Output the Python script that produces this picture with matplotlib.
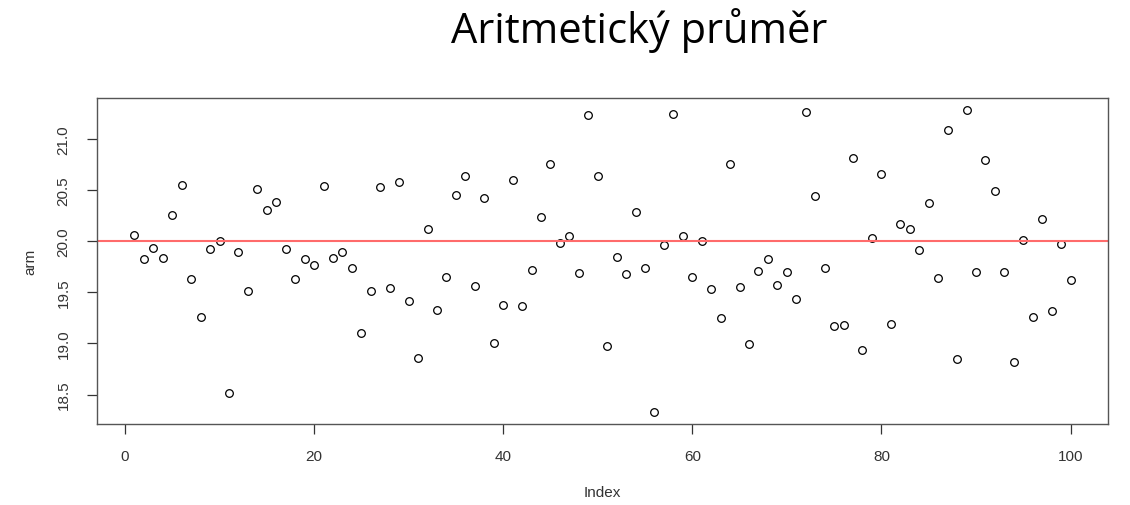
import numpy as np
import matplotlib.pyplot as plt

# sample means, one per simulated sample (index 1..100)
arm = [
    20.06, 19.82, 19.93, 19.83, 20.25, 20.55, 19.63, 19.26, 19.92, 20.00,
    18.52, 19.89, 19.51, 20.51, 20.30, 20.38, 19.92, 19.63, 19.82, 19.77,
    20.54, 19.83, 19.89, 19.74, 19.10, 19.51, 20.53, 19.54, 20.58, 19.41,
    18.86, 20.12, 19.33, 19.65, 20.45, 20.64, 19.56, 20.42, 19.00, 19.38,
    20.60, 19.37, 19.72, 20.24, 20.75, 19.98, 20.05, 19.69, 21.23, 20.64,
    18.97, 19.84, 19.68, 20.28, 19.74, 18.33, 19.96, 21.24, 20.05, 19.65,
    20.00, 19.53, 19.25, 20.75, 19.55, 18.99, 19.71, 19.82, 19.57, 19.70,
    19.43, 21.26, 20.44, 19.74, 19.17, 19.18, 20.81, 18.94, 20.03, 20.66,
    19.19, 20.17, 20.12, 19.91, 20.37, 19.64, 21.09, 18.85, 21.28, 19.70,
    20.79, 20.49, 19.70, 18.82, 20.01, 19.26, 20.22, 19.32, 19.97, 19.62,
]
mu = 20.0
x_ticks = [0, 20, 40, 60, 80, 100]
y_ticks = [18.5, 19.0, 19.5, 20.0, 20.5, 21.0]

plt.rcParams['font.family'] = ['Liberation Sans', 'DejaVu Sans']

fig = plt.figure(figsize=(11.3, 5.06), dpi=100)
ax = fig.add_axes([0.0858, 0.160, 0.8947, 0.6443])

idx = np.arange(1, len(arm) + 1)
ax.plot(idx, arm, linestyle='none', marker='o', markersize=5.5,
        markerfacecolor='none', markeredgecolor='black', markeredgewidth=0.9)
ax.axhline(mu, color='#ff6b6b', linewidth=1.5)

# R-style 4% padding on both axes
def padded(lo, hi):
    d = (hi - lo) * 0.04
    return lo - d, hi + d

ax.set_xlim(*padded(1, len(arm)))
ax.set_ylim(*padded(min(arm), max(arm)))

ax.set_xticks(x_ticks)
ax.set_xticklabels([str(t) for t in x_ticks])
ax.set_yticks(y_ticks)
ax.set_yticklabels([f'{t:.1f}' for t in y_ticks], rotation=90, va='center')

for s in ax.spines.values():
    s.set_color('#555555')
    s.set_linewidth(1.0)

ax.tick_params(axis='both', direction='out', length=7, width=0.9,
               color='#333333', labelcolor='#333333', labelsize=11)
ax.tick_params(axis='x', pad=11)
ax.tick_params(axis='y', pad=12)

ax.set_xlabel('Index', fontsize=11, color='#333333', labelpad=16)
ax.set_ylabel('arm', fontsize=11, color='#333333', labelpad=14)

fig.text(0.566, 0.94, 'Aritmetický průměr', ha='center', va='center',
         fontsize=30, family=['Open Sans', 'DejaVu Sans'], color='black')

fig.savefig('out.png', dpi=100)
